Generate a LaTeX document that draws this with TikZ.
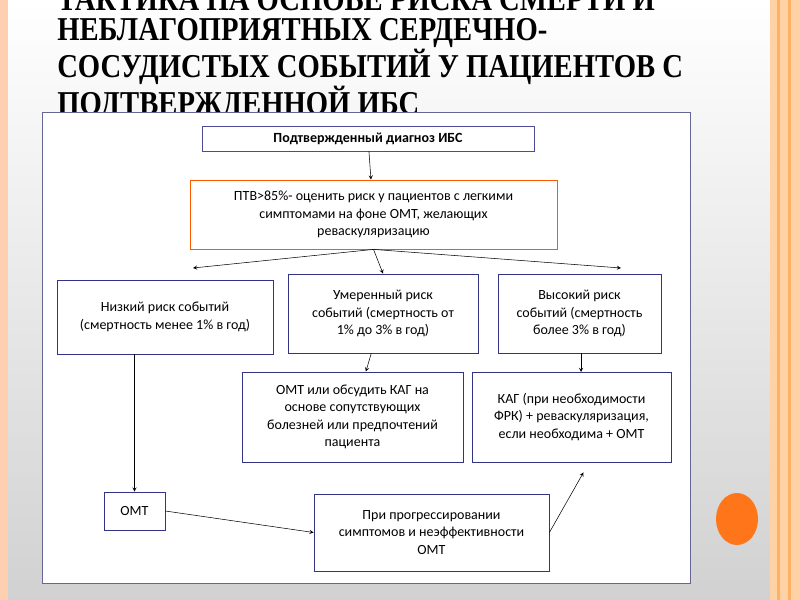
\documentclass[tikz,border=0pt]{standalone}
\usepackage{fontspec}
\setmainfont{Carlito}
\newfontfamily\titlefont{Liberation Serif}
\usetikzlibrary{calc}

\begin{document}
\begin{tikzpicture}[x=0.75pt,y=-0.75pt,>=stealth,
  box/.style={draw=#1,semithick,align=center,inner sep=2pt,font=\fontsize{10.5}{13}\selectfont},
  box/.default={black!85}]

% slide background
\useasboundingbox (0,0) rectangle (800,600);
\shade[top color=white,bottom color=black!18] (0,0) rectangle (800,600);
\fill[red!25!orange!30] (0,0) rectangle (8,600);
\fill[orange!35] (770,0) rectangle (800,600);
\fill[orange!60] (777,0) rectangle (780,600);
\fill[orange!60] (788,0) rectangle (791,600);
\fill[orange!80!red!90] (737,519) ellipse (21 and 26);

% title
\node[anchor=north west,inner sep=0] (title) at (57,-12)
  {\scalebox{0.86}[1]{\titlefont\bfseries\fontsize{25}{24}\selectfont
   \def\arraystretch{0.88}%
   \begin{tabular}{@{}l@{}}ТАКТИКА НА ОСНОВЕ РИСКА СМЕРТИ И\\НЕБЛАГОПРИЯТНЫХ СЕРДЕЧНО-\\СОСУДИСТЫХ СОБЫТИЙ У ПАЦИЕНТОВ С\\ПОДТВЕРЖДЕННОЙ ИБС\end{tabular}}};

% panel
\draw[fill=white,draw=blue!30!black!60] (42,112) rectangle (690,583);

\def\bx#1#2#3#4#5#6{% name,x1,y1,x2,y2,colour
 \path (#2,#3) coordinate (#1-a) (#4,#5) coordinate (#1-b);
 \node[box=#6,minimum width={(#4-#2)*0.75pt},minimum height={(#5-#3)*0.75pt}] (#1)
   at ($(#1-a)!0.5!(#1-b)$) }

\bx{diag}{202}{126}{534}{151}{blue!40!black!70}{\bfseries Подтвержденный диагноз ИБС};
\bx{ptv}{190}{180}{557}{249}{orange!70!red}{ПТВ>85\%- оценить риск у пациентов с легкими\\симптомами на фоне ОМТ, желающих\\реваскуляризацию};
\bx{low}{57}{280}{273}{354}{blue!40!black!80}{Низкий риск событий\\(смертность менее 1\% в год)};
\bx{mid}{288}{274}{478}{353}{blue!40!black!80}{Умеренный риск\\событий (смертность от\\1\% до 3\% в год)};
\bx{high}{498}{274}{661}{353}{blue!40!black!80}{Высокий риск\\событий (смертность\\более 3\% в год)};
\bx{omtk}{242}{372}{463}{462}{blue!40!black!80}{ОМТ или обсудить КАГ на\\основе сопутствующих\\болезней или предпочтений\\пациента};
\bx{kag}{472}{372}{671}{462}{blue!40!black!80}{КАГ (при необходимости\\ФРК) + реваскуляризация,\\если необходима + ОМТ};
\bx{omt}{104}{492}{165}{530}{blue!40!black!80}{ОМТ};
\bx{prog}{314}{494}{549}{571}{blue!40!black!80}{При прогрессировании\\симптомов и неэффективности\\ОМТ};

% connectors
\coordinate (fl) at (193,268);
\coordinate (fr) at (621,268);
\draw[->] (diag) -- (ptv);
\draw[->] (ptv.south) -- (fl);
\draw[->] (ptv.south) -- (mid.north);
\draw[->] (ptv.south) -- (fr);
\draw[->] (low.south -| omt) -- (omt);
\draw[->] (mid) -- (omtk);
\draw[->] (high.south -| 581,0) -- (581,372);
\draw[->] (omt.east) -- (prog.west);
\draw[->] (prog.east) -- ($(kag.south)+(12,10)$);
\end{tikzpicture}
\end{document}
